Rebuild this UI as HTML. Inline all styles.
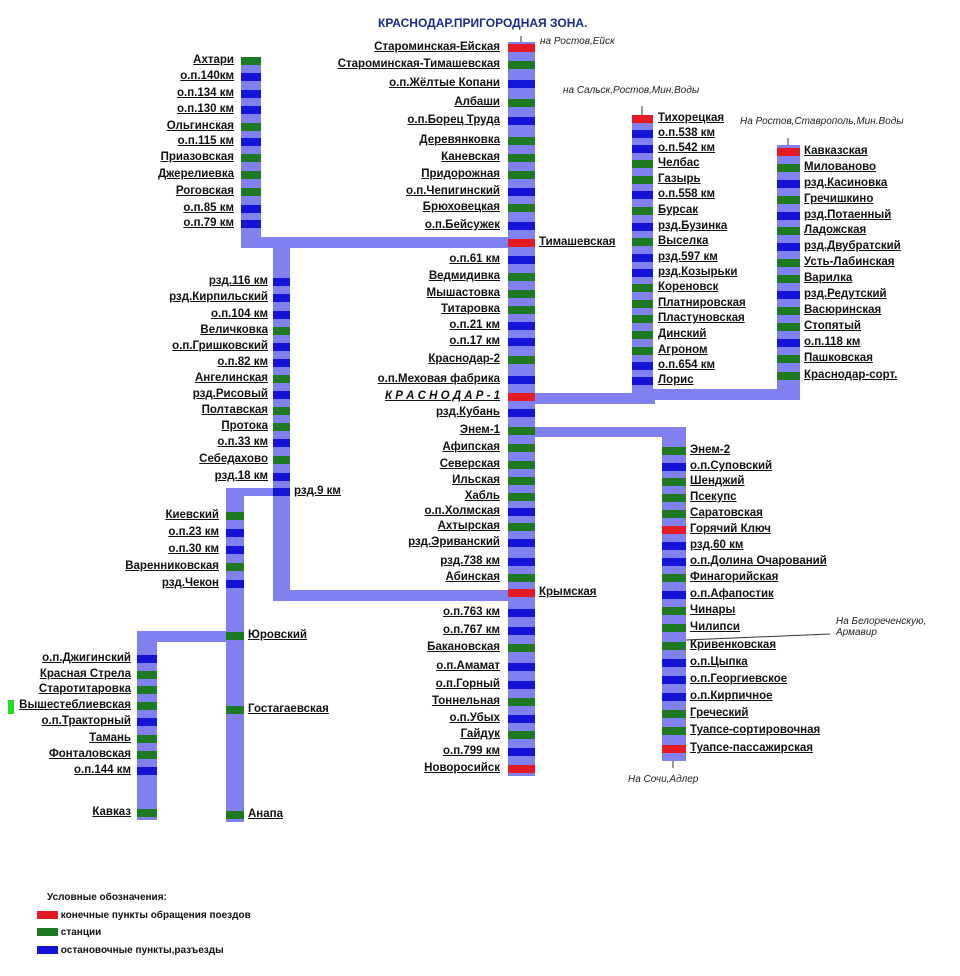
<!DOCTYPE html>
<html><head><meta charset="utf-8">
<style>
body{margin:0;width:960px;height:976px;background:#fff;position:relative;overflow:hidden;font-family:"Liberation Sans","DejaVu Sans",sans-serif}
#map{position:absolute;left:0;top:0;width:960px;height:976px}
.tr{position:absolute;background:#8080f0}
.st{position:absolute;height:8px}
.lb{position:absolute;font-size:11.5px;font-weight:bold;text-decoration:underline;color:#111;white-space:nowrap;line-height:12px}
.lb.l{transform:translateX(-100%)}
.note{position:absolute;font-size:10px;font-style:italic;color:#222;white-space:nowrap}
</style></head>
<body>
<div id="map">
<div style="position:absolute;left:378px;top:16px;font-size:12px;font-weight:bold;color:#1a2a8a">КРАСНОДАР.ПРИГОРОДНАЯ ЗОНА.</div>
<div class="note" style="left:540px;top:36px">на Ростов,Ейск</div>
<div class="note" style="left:563px;top:85px">на Сальск,Ростов,Мин.Воды</div>
<div class="note" style="left:740px;top:116px">На Ростов,Ставрополь,Мин.Воды</div>
<div class="note" style="left:836px;top:616px">На Белореченскую,<br>Армавир</div>
<div class="note" style="left:628px;top:774px">На Сочи,Адлер</div>
<svg style="position:absolute;left:0;top:0" width="960" height="976">
<line x1="521" y1="36" x2="521" y2="44" stroke="#333"/>
<line x1="642" y1="106" x2="642" y2="116" stroke="#333"/>
<line x1="788" y1="138" x2="788" y2="146" stroke="#333"/>
<line x1="673" y1="757" x2="673" y2="768" stroke="#333"/>
<line x1="686" y1="640" x2="830" y2="634" stroke="#333"/>
</svg>
<div style="position:absolute;left:8px;top:700px;width:6px;height:14px;background:#22dd22"></div>
</div>
<div style="position:absolute;left:30px;top:892px;font-size:10px;font-weight:bold;color:#111">
<div style="position:absolute;left:17px;top:0;white-space:nowrap">Условные обозначения:</div>
<div style="position:absolute;left:7px;top:18px;white-space:nowrap"><span style="display:inline-block;width:21px;height:8px;background:#e41b24;vertical-align:middle"></span> конечные пункты обращения поездов</div>
<div style="position:absolute;left:7px;top:35px;white-space:nowrap"><span style="display:inline-block;width:21px;height:8px;background:#1d7a22;vertical-align:middle"></span> станции</div>
<div style="position:absolute;left:7px;top:53px;white-space:nowrap"><span style="display:inline-block;width:21px;height:8px;background:#1414d8;vertical-align:middle"></span> остановочные пункты,разъезды</div>
</div>
<script>
const tracks=[[508,42,27,734],[241,57,20,190],[241,237,294,11],[273,237,17,364],[273,590,240,11],[226,488,18,334],[226,488,64,8],[137,631,20,189],[137,631,107,11],[632,115,21,286],[535,393,120,11],[653,389,147,11],[777,145,23,255],[535,427,151,10],[662,427,24,334]];
const cols={main:[508,27,'l',500],akh:[241,20,'l',234],mid:[273,17,'l',268],anapa:[226,18,'l',219],kav:[137,20,'l',131],tih:[632,21,'r',658],kvz:[777,23,'r',804],enem:[662,24,'r',690]};
const T='t',S='s',P='p';
const stations=[
['main',48,'Староминская-Ейская',T],['main',65,'Староминская-Тимашевская',S],['main',84,'о.п.Жёлтые Копани',P],['main',103,'Албаши',S],['main',121,'о.п.Борец Труда',P],['main',141,'Деревянковка',S],['main',158,'Каневская',S],['main',175,'Придорожная',S],['main',192,'о.п.Чепигинский',P],['main',208,'Брюховецкая',S],['main',226,'о.п.Бейсужек',P],['main',243,'Тимашевская',T,'r'],['main',260,'о.п.61 км',P],['main',277,'Ведмидивка',S],['main',294,'Мышастовка',S],['main',310,'Титаровка',S],['main',326,'о.п.21 км',P],['main',342,'о.п.17 км',P],['main',360,'Краснодар-2',S],['main',380,'о.п.Меховая фабрика',P],['main',397,'К Р А С Н О Д А Р - 1',T],['main',413,'рзд.Кубань',P],['main',431,'Энем-1',S],['main',448,'Афипская',S],['main',465,'Северская',S],['main',481,'Ильская',S],['main',497,'Хабль',S],['main',512,'о.п.Холмская',P],['main',527,'Ахтырская',S],['main',543,'рзд.Эриванский',P],['main',562,'рзд.738 км',P],['main',578,'Абинская',S],['main',593,'Крымская',T,'r'],['main',613,'о.п.763 км',P],['main',631,'о.п.767 км',P],['main',648,'Бакановская',S],['main',667,'о.п.Амамат',P],['main',685,'о.п.Горный',P],['main',702,'Тоннельная',S],['main',719,'о.п.Убых',P],['main',735,'Гайдук',S],['main',752,'о.п.799 км',P],['main',769,'Новоросийск',T],
['akh',61,'Ахтари',S],['akh',77,'о.п.140км',P],['akh',94,'о.п.134 км',P],['akh',110,'о.п.130 км',P],['akh',127,'Ольгинская',S],['akh',142,'о.п.115 км',P],['akh',158,'Приазовская',S],['akh',175,'Джерелиевка',S],['akh',192,'Роговская',S],['akh',209,'о.п.85 км',P],['akh',224,'о.п.79 км',P],
['mid',282,'рзд.116 км',P],['mid',298,'рзд.Кирпильский',P],['mid',315,'о.п.104 км',P],['mid',331,'Величковка',S],['mid',347,'о.п.Гришковский',P],['mid',363,'о.п.82 км',P],['mid',379,'Ангелинская',S],['mid',395,'рзд.Рисовый',P],['mid',411,'Полтавская',S],['mid',427,'Протока',S],['mid',443,'о.п.33 км',P],['mid',460,'Себедахово',S],['mid',477,'рзд.18 км',P],['mid',492,'рзд.9 км',P,'r'],
['anapa',516,'Киевский',S],['anapa',533,'о.п.23 км',P],['anapa',550,'о.п.30 км',P],['anapa',567,'Варенниковская',S],['anapa',584,'рзд.Чекон',P],['anapa',636,'Юровский',S,'r'],['anapa',710,'Гостагаевская',S,'r'],['anapa',815,'Анапа',S,'r'],
['kav',659,'о.п.Джигинский',P],['kav',675,'Красная Стрела',S],['kav',690,'Старотитаровка',S],['kav',706,'Вышестеблиевская',S],['kav',722,'о.п.Тракторный',P],['kav',739,'Тамань',S],['kav',755,'Фонталовская',S],['kav',771,'о.п.144 км',P],['kav',813,'Кавказ',S],
['tih',119,'Тихорецкая',T],['tih',134,'о.п.538 км',P],['tih',149,'о.п.542 км',P],['tih',164,'Челбас',S],['tih',180,'Газырь',S],['tih',195,'о.п.558 км',P],['tih',211,'Бурсак',S],['tih',227,'рзд.Бузинка',P],['tih',242,'Выселка',S],['tih',258,'рзд.597 км',P],['tih',273,'рзд.Козырьки',P],['tih',288,'Кореновск',S],['tih',304,'Платнировская',S],['tih',319,'Пластуновская',S],['tih',335,'Динский',S],['tih',351,'Агроном',S],['tih',366,'о.п.654 км',P],['tih',381,'Лорис',P],
['kvz',152,'Кавказская',T],['kvz',168,'Милованово',S],['kvz',184,'рзд.Касиновка',P],['kvz',200,'Гречишкино',S],['kvz',216,'рзд.Потаенный',P],['kvz',231,'Ладожская',S],['kvz',247,'рзд.Двубратский',P],['kvz',263,'Усть-Лабинская',S],['kvz',279,'Варилка',S],['kvz',295,'рзд.Редутский',P],['kvz',311,'Васюринская',S],['kvz',327,'Стопятый',S],['kvz',343,'о.п.118 км',P],['kvz',359,'Пашковская',S],['kvz',376,'Краснодар-сорт.',S],
['enem',451,'Энем-2',S],['enem',467,'о.п.Суповский',P],['enem',482,'Шенджий',S],['enem',498,'Псекупс',S],['enem',514,'Саратовская',S],['enem',530,'Горячий Ключ',T],['enem',546,'рзд.60 км',P],['enem',562,'о.п.Долина Очарований',P],['enem',578,'Финагорийская',S],['enem',595,'о.п.Афапостик',P],['enem',611,'Чинары',S],['enem',628,'Чилипси',S],['enem',646,'Кривенковская',S],['enem',663,'о.п.Цыпка',P],['enem',680,'о.п.Георгиевское',P],['enem',697,'о.п.Кирпичное',P],['enem',714,'Греческий',S],['enem',731,'Туапсе-сортировочная',S],['enem',749,'Туапсе-пассажирская',T]
];
const colors={t:'#e41b24',s:'#1d7a22',p:'#1414d8'};
const map=document.getElementById('map');
tracks.forEach(t=>{
  const d=document.createElement('div');
  d.className='tr';
  
  
  d.style.cssText=`left:${t[0]}px;top:${t[1]}px;width:${t[2]}px;height:${t[3]}px`;
  map.appendChild(d);
});
stations.forEach(s=>{
  const c=cols[s[0]];
  const b=document.createElement('div');
  b.className='st';
  
  
  b.style.cssText=`left:${c[0]}px;top:${s[1]-4}px;width:${c[1]}px;background:${colors[s[3]]}`;
  map.appendChild(b);
  const l=document.createElement('div');
  const side=s[4]||c[2];
  l.className='lb'+(side==='l'?' l':'');
  
  
  l.textContent=s[2];
  let x=side==='l'?c[3]:(s[4]?c[0]+c[1]+4:c[3]);
  l.style.left=x+'px';l.style.top=(s[1]-7)+'px';
  if(s[2].startsWith('К Р А'))l.style.fontStyle='italic';
  map.appendChild(l);
});
</script>
</body></html>
